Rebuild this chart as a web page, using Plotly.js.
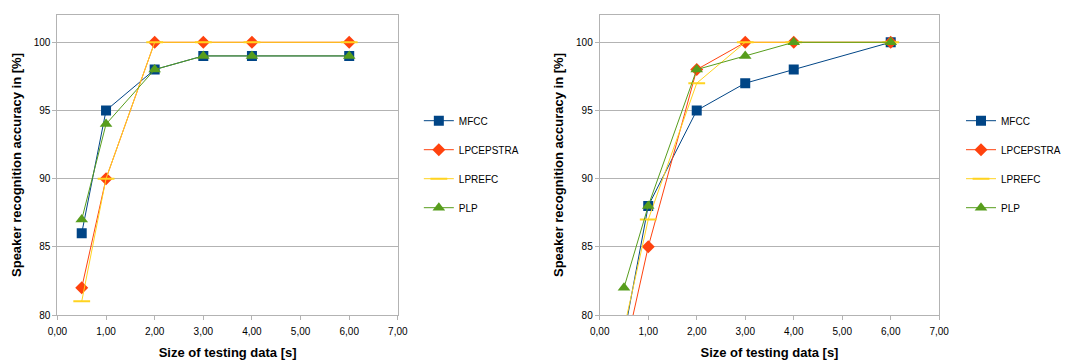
<!DOCTYPE html>
<html><head><meta charset="utf-8">
<script src="https://cdn.plot.ly/plotly-3.0.1.min.js"></script>
<style>body{margin:0;background:#fff}#c{width:1066px;height:360px}</style>
</head><body><div id="c"></div>
<script>
const xVals = [0.5, 1, 2, 3, 4, 6];
const seriesNames = ["MFCC", "LPCEPSTRA", "LPREFC", "PLP"];
// left chart
const leftMFCC = [86, 95, 98, 99, 99, 99];
const leftLPCEPSTRA = [82, 90, 100, 100, 100, 100];
const leftLPREFC = [81, 90, 100, 100, 100, 100];
const leftPLP = [87, 94, 98, 99, 99, 99];
// right chart
const rightMFCC = [78.5, 88, 95, 97, 98, 100];
const rightLPCEPSTRA = [77, 85, 98, 100, 100, 100];
const rightLPREFC = [79, 87, 97, 100, 100, 100];
const rightPLP = [82, 88, 98, 99, 100, 100];

const colors = ["#004586", "#ff420e", "#ffd320", "#579d1c"];
const symbols = ["square", "diamond", "line-ew", "triangle-up"];
const sizes = [10, 10, 12, 11];

function mk(y, i, side) {
  const s = {
    x: xVals, y: y, name: seriesNames[i], type: "scatter", mode: "lines+markers",
    line: {color: colors[i], width: 1},
    marker: {symbol: symbols[i], size: sizes[i], color: colors[i],
             line: {color: colors[i], width: symbols[i] === "line-ew" ? 2 : 0}},
    legendgroup: side + i, cliponaxis: true
  };
  if (side === "r") { s.xaxis = "x2"; s.yaxis = "y2"; s.legend = "legend2"; }
  return s;
}
const data = [
  mk(leftMFCC, 0, "l"), mk(leftLPCEPSTRA, 1, "l"), mk(leftLPREFC, 2, "l"), mk(leftPLP, 3, "l"),
  mk(rightMFCC, 0, "r"), mk(rightLPCEPSTRA, 1, "r"), mk(rightLPREFC, 2, "r"), mk(rightPLP, 3, "r")
];
const fontFam = "Liberation Sans, Arial, sans-serif";
function xa(dom) {
  return {domain: dom, range: [0, 7], dtick: 1, tick0: 0, tickformat: ".2f",
    showline: true, mirror: true, linecolor: "#b3b3b3", linewidth: 1,
    ticks: "outside", ticklen: 4, tickcolor: "#b3b3b3", showgrid: false, zeroline: false,
    ticklabelstandoff: 3,
    tickfont: {size: 10, color: "#000"},
    title: {text: "Size of testing data [s]", font: {size: 13, color: "#000", family: fontFam, weight: "bold"}, standoff: 11}};
}
function ya(anchor) {
  return {domain: [0.125, 0.9583], range: [80, 102], dtick: 5, tick0: 80, anchor: anchor,
    showline: true, mirror: true, linecolor: "#b3b3b3", linewidth: 1,
    ticks: "outside", ticklen: 4, tickcolor: "#b3b3b3", showgrid: true, gridcolor: "#b3b3b3",
    zeroline: false, tickfont: {size: 10, color: "#000"},
    title: {text: "Speaker recognition accuracy in [%]", font: {size: 13, color: "#000", family: fontFam, weight: "bold"}, standoff: 9}};
}
const leg = (x) => ({x: x, y: 0.705, xanchor: "left", yanchor: "top", font: {size: 10, color: "#000"},
  tracegroupgap: 10, itemwidth: 30, bgcolor: "rgba(0,0,0,0)"});
const layout = {
  width: 1066, height: 360, margin: {l: 0, r: 0, t: 0, b: 0},
  paper_bgcolor: "#fff", plot_bgcolor: "#fff",
  font: {family: fontFam, size: 10, color: "#000"},
  separators: ",.",
  xaxis: Object.assign(xa([58/1066, 402/1066]), {anchor: "y"}),
  yaxis: ya("x"),
  xaxis2: Object.assign(xa([606/1066, 949/1066]), {anchor: "y2"}),
  yaxis2: ya("x2"),
  showlegend: true,
  legend: leg(0.397),
  legend2: leg(0.911)
};
Plotly.newPlot("c", data, layout, {displayModeBar: false, staticPlot: true});
</script></body></html>
